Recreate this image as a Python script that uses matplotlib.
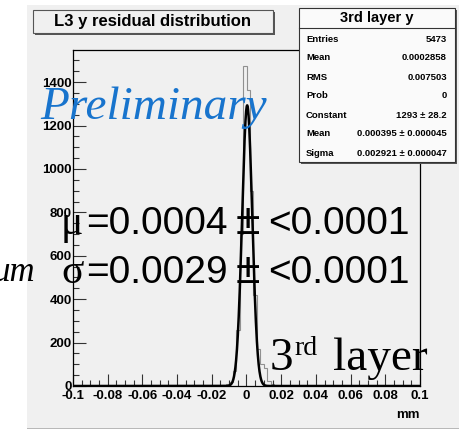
import numpy as np
import matplotlib
matplotlib.use("Agg")
import matplotlib.pyplot as plt
from matplotlib.patches import Rectangle
from matplotlib.ticker import MultipleLocator, FuncFormatter

# histogram: 100 bins of 0.002 mm between -0.1 and 0.1, only the core is non-empty
core_centres = [-0.019, -0.017, -0.015, -0.013, -0.011, -0.009, -0.007, -0.005, -0.003, -0.001,
                0.001, 0.003, 0.005, 0.007, 0.009, 0.011, 0.013, 0.015, 0.017, 0.019]
core_counts = [0, 1, 2, 4, 8, 20, 70, 260, 700, 1474,
               1362, 900, 420, 170, 100, 85, 25, 8, 4, 2]
counts = [0] * 40 + core_counts + [0] * 40

# gaus fit result
fit_const, fit_mean, fit_sigma = 1293.0, 0.000395, 0.002921

stat_names = ["Entries", "Mean", "RMS", "Prob", "Constant", "Mean", "Sigma"]
stat_values = ["5473", "0.0002858", "0.007503", "0", "1293 \u00b1 28.2",
               "0.000395 \u00b1 0.000045", "0.002921 \u00b1 0.000047"]

W, H = 459, 430
plt.rcParams.update({"axes.unicode_minus": False, "font.family": "Liberation Sans"})
fig = plt.figure(figsize=(W / 100, H / 100), dpi=100)
fig.patch.set_facecolor("white")


def fx(x):
    return x / W


def fy(y):
    return 1 - y / H


# canvas background
fig.patches.append(Rectangle((fx(27), fy(428)), 1 - fx(27), fy(5) - fy(428), transform=fig.transFigure,
                             facecolor="#f0f0f0", edgecolor="none", zorder=-2))
fig.patches.append(Rectangle((fx(27), fy(429)), 1 - fx(27), 1.5 / H, transform=fig.transFigure,
                             facecolor="#b8b8b8", edgecolor="none", zorder=-2))

ax = fig.add_axes([fx(73), fy(386), fx(420) - fx(73), fy(50) - fy(386)])
ax.set_facecolor("#f0f0f0")

edges = np.linspace(-0.1, 0.1, len(counts) + 1)
ax.stairs(counts, edges, color="#909090", lw=0.8)
xs = np.linspace(-0.1, 0.1, 2001)
ax.plot(xs, fit_const * np.exp(-0.5 * ((xs - fit_mean) / fit_sigma) ** 2), color="black", lw=1.8)

ax.set_xlim(-0.1, 0.1)
ax.set_ylim(0, 1548)
ax.xaxis.set_major_locator(MultipleLocator(0.02))
ax.xaxis.set_minor_locator(MultipleLocator(0.005))
ax.yaxis.set_major_locator(MultipleLocator(200))
ax.yaxis.set_minor_locator(MultipleLocator(50))
ax.xaxis.set_major_formatter(FuncFormatter(lambda v, p: "%g" % (round(v, 3) + 0.0)))
ax.tick_params(which="both", direction="in", top=False, right=False, width=0.8, color="#333333")
ax.tick_params(which="major", length=9)
ax.tick_params(which="minor", length=4.5)
ax.tick_params(axis="x", pad=3)
ax.tick_params(axis="y", pad=1)
for lab in ax.get_xticklabels() + ax.get_yticklabels():
    lab.set_fontweight("bold")
    lab.set_fontsize(9.5)
for s in ax.spines.values():
    s.set_linewidth(0.9)

fig.text(fx(420), fy(415), "mm", ha="right", va="center", fontsize=9.5, fontweight="bold")

# title box
fig.patches.append(Rectangle((fx(35), fy(35)), fx(240), 23 / H, transform=fig.transFigure,
                             facecolor="#555555", edgecolor="none", zorder=3))
fig.patches.append(Rectangle((fx(33), fy(33)), fx(240), 23 / H, transform=fig.transFigure,
                             facecolor="#f0f0f0", edgecolor="#555555", lw=0.8, zorder=3))
fig.text(fx(153), fy(21.5), "L3 y residual distribution", ha="center", va="center",
         fontsize=12, fontweight="bold", zorder=4)

# stats box
fig.patches.append(Rectangle((fx(301), fy(164)), fx(156), 154 / H, transform=fig.transFigure,
                             facecolor="#555555", edgecolor="none", zorder=3))
fig.patches.append(Rectangle((fx(299), fy(162)), fx(156), 154 / H, transform=fig.transFigure,
                             facecolor="#fafafa", edgecolor="#333333", lw=0.8, zorder=3))
fig.lines.append(plt.Line2D([fx(299), fx(455)], [fy(28), fy(28)], transform=fig.transFigure,
                            color="#333333", lw=0.8, zorder=4))
fig.text(fx(377), fy(18), "3rd layer y", ha="center", va="center", fontsize=10.5,
         fontweight="bold", zorder=4)
for i, (n, v) in enumerate(zip(stat_names, stat_values)):
    yy = fy(39 + 19 * i)
    fig.text(fx(306), yy, n, ha="left", va="center", fontsize=6.8, fontweight="bold", zorder=4)
    fig.text(fx(447), yy, v, ha="right", va="center", fontsize=6.8, fontweight="bold", zorder=4)

# overlaid annotations
fig.text(fx(40), fy(119), "Preliminary", fontsize=34, family="Liberation Serif", style="italic",
         color="#1874cd", va="baseline", zorder=5)
for base, sym, val in [(234, "\u03bc", "=0.0004"), (283, "\u03c3", "=0.0029")]:
    fig.text(fx(61), fy(base), sym, fontsize=30, family="Liberation Serif", va="baseline", zorder=5)
    fig.text(fx(86), fy(base), val, fontsize=28, va="baseline", zorder=5)
    fig.text(fx(248), fy(base), "\u00b1", fontsize=32, ha="center", va="baseline", zorder=5)
    fig.text(fx(268), fy(base), "<0.0001", fontsize=28, va="baseline", zorder=5)
fig.text(fx(35), fy(281), "\u03bcm", fontsize=25, family="Liberation Serif", style="italic",
         ha="right", va="baseline", zorder=5)
fig.text(fx(270), fy(370), "3", fontsize=34, family="Liberation Serif", va="baseline", zorder=5)
fig.text(fx(294), fy(355), "rd", fontsize=20, family="Liberation Serif", va="baseline", zorder=5)
fig.text(fx(333), fy(370), "layer", fontsize=34, family="Liberation Serif", va="baseline", zorder=5)

fig.savefig("out.png", dpi=100)
